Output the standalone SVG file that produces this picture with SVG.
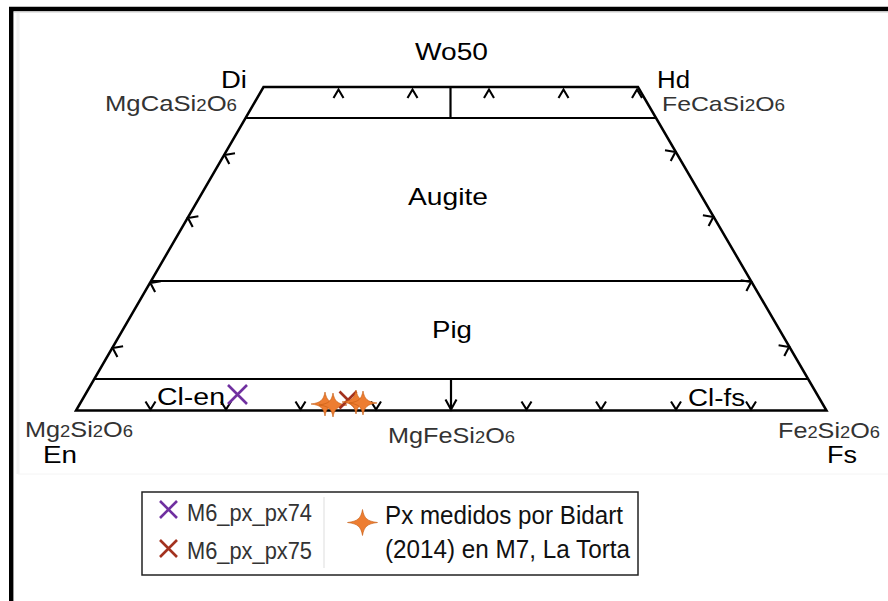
<svg xmlns="http://www.w3.org/2000/svg" width="888" height="601" viewBox="0 0 888 601">
<style>
.ln{stroke:#000;stroke-width:2.5;fill:none;stroke-linecap:square}
.in{stroke:#000;stroke-width:2.2;fill:none}
.tk{stroke:#000;stroke-width:2.1;fill:none;stroke-linejoin:miter}
.lab{font-family:"Liberation Sans",Arial,sans-serif;fill:#000}
.frm{font-family:"Liberation Sans",Arial,sans-serif;fill:#333;font-size:22px}
.sub{font-size:16px}
.leg{font-family:"Liberation Sans",Arial,sans-serif;fill:#333;font-size:23px}
.leg2{font-family:"Liberation Sans",Arial,sans-serif;fill:#111;font-size:25.5px}
.star{fill:#ED7D31;stroke:#C55A11;stroke-width:0.6}
.xp{stroke:#7030A0;stroke-width:2.6;fill:none}
.xr{stroke:#A3321F;stroke-width:2.6;fill:none}
</style>
<defs>
<path id="st" d="M-14,0 C-4.2,-1.3 -1.6,-3.8 0,-12 C1.6,-3.8 4.2,-1.3 14,0 C4.2,1.3 1.6,3.8 0,12 C-1.6,3.8 -4.2,1.3 -14,0Z"/>
<path id="stL" d="M-15,0 C-4.5,-1.4 -1.7,-4 0,-13 C1.7,-4 4.5,-1.4 15,0 C4.5,1.4 1.7,4 0,13 C-1.7,4 -4.5,1.4 -15,0Z"/>
</defs>
<rect x="0" y="0" width="888" height="601" fill="#fff"/>
<g id="frame">
<line x1="9" y1="9" x2="888" y2="9" stroke="#000" stroke-width="4.4"/>
<line x1="11.2" y1="7" x2="11.2" y2="601" stroke="#000" stroke-width="4.4"/>
<line x1="14" y1="12" x2="888" y2="12" stroke="#ccc" stroke-width="1"/>
<line x1="18" y1="13" x2="18" y2="474" stroke="#f2f2f2" stroke-width="3"/>
<line x1="18" y1="474" x2="888" y2="474" stroke="#f4f4f4" stroke-width="1"/>
</g>
<g id="connectors">
<polygon class="ln" points="263.5,87 638,87 826.5,410.5 76,410.5"/>
<line class="in" x1="245.5" y1="118" x2="656" y2="118"/>
<line class="in" x1="151.1" y1="281" x2="751" y2="281"/>
<line class="in" x1="94.3" y1="379" x2="808.1" y2="379"/>
<line class="in" x1="450.5" y1="87" x2="450.5" y2="118"/>
<line class="in" x1="451" y1="379" x2="451" y2="409"/>
<polyline class="tk" points="445.5,399.5 451,409.5 456.5,399.5"/>
<g id="ticks-top">
<polyline class="tk" points="333.5,98 338.5,89.5 343.5,98"/>
<polyline class="tk" points="407.5,98 412.5,89.5 417.5,98"/>
<polyline class="tk" points="484,98 489,89.5 494,98"/>
<polyline class="tk" points="558.5,98 563.5,89.5 568.5,98"/>
<polyline class="tk" points="632,98 637,89.5 642,98"/>
</g>
<g id="ticks-bottom">
<polyline class="tk" points="145.5,401.5 150.5,409.5 155.5,401.5"/>
<polyline class="tk" points="221,401.5 226,409.5 231,401.5"/>
<polyline class="tk" points="295.5,401.5 300.5,409.5 305.5,401.5"/>
<polyline class="tk" points="371,401.5 376,409.5 381,401.5"/>
<polyline class="tk" points="521.5,401.5 526.5,409.5 531.5,401.5"/>
<polyline class="tk" points="596,401.5 601,409.5 606,401.5"/>
<polyline class="tk" points="671,401.5 676,409.5 681,401.5"/>
<polyline class="tk" points="746,401.5 751,409.5 756,401.5"/>
</g>
<g id="ticks-left">
<polyline class="tk" points="235,153.3 224.6,155 229.3,164"/>
<polyline class="tk" points="198.4,216.3 188,218 192.7,227"/>
<polyline class="tk" points="160.8,281.3 150.4,283 155.1,292"/>
<polyline class="tk" points="123.1,346.3 112.7,348 117.4,357"/>
</g>
<g id="ticks-right">
<polyline class="tk" points="665,150.3 675.4,152 670.7,161"/>
<polyline class="tk" points="702.9,215.3 713.3,217 708.6,226"/>
<polyline class="tk" points="740.7,280.3 751.1,282 746.4,291"/>
<polyline class="tk" points="778.6,345.3 789,347 784.3,356"/>
</g>
</g>
<g id="labels">
<text class="lab" x="415" y="60" font-size="23.5" textLength="73" lengthAdjust="spacingAndGlyphs">Wo50</text>
<text class="lab" x="221" y="88" font-size="23" textLength="26" lengthAdjust="spacingAndGlyphs">Di</text>
<text class="lab" x="657" y="88" font-size="23" textLength="33" lengthAdjust="spacingAndGlyphs">Hd</text>
<text class="lab" x="408" y="205" font-size="24.5" textLength="80" lengthAdjust="spacingAndGlyphs">Augite</text>
<text class="lab" x="432" y="338" font-size="24.5" textLength="40" lengthAdjust="spacingAndGlyphs">Pig</text>
<text class="lab" x="157" y="405" font-size="23.5" textLength="68" lengthAdjust="spacingAndGlyphs">Cl-en</text>
<text class="lab" x="688" y="406" font-size="23.5" textLength="57" lengthAdjust="spacingAndGlyphs">Cl-fs</text>
<text class="lab" x="43" y="463" font-size="23.5" textLength="34" lengthAdjust="spacingAndGlyphs">En</text>
<text class="lab" x="827" y="463" font-size="23.5" textLength="30" lengthAdjust="spacingAndGlyphs">Fs</text>
<text class="frm" x="105" y="111" font-size="21" textLength="132" lengthAdjust="spacingAndGlyphs">MgCaSi<tspan class="sub">2</tspan>O<tspan class="sub">6</tspan></text>
<text class="frm" x="662" y="111" style="font-size:21px" textLength="123" lengthAdjust="spacingAndGlyphs">FeCaSi<tspan class="sub">2</tspan>O<tspan class="sub">6</tspan></text>
<text class="frm" x="25" y="437" textLength="108" lengthAdjust="spacingAndGlyphs">Mg<tspan class="sub">2</tspan>Si<tspan class="sub">2</tspan>O<tspan class="sub">6</tspan></text>
<text class="frm" x="388" y="443" textLength="127" lengthAdjust="spacingAndGlyphs">MgFeSi<tspan class="sub">2</tspan>O<tspan class="sub">6</tspan></text>
<text class="frm" x="778" y="438" textLength="102" lengthAdjust="spacingAndGlyphs">Fe<tspan class="sub">2</tspan>Si<tspan class="sub">2</tspan>O<tspan class="sub">6</tspan></text>
</g>
<g id="data">
<g id="px74"><path class="xp" d="M228,385 L247,404 M247,385 L228,404"/></g>
<g id="bidart">
<use href="#st" class="star" x="325" y="404"/>
<use href="#st" class="star" x="333" y="405"/>
</g>
<g id="px75"><path class="xr" d="M339.5,391.5 L356.5,408.5 M356.5,391.5 L339.5,408.5"/></g>
<g id="bidart2">
<use href="#st" class="star" x="356" y="402"/>
<use href="#st" class="star" x="363" y="403"/>
</g>
</g>
<g id="legend">
<rect x="142" y="492" width="496" height="83" fill="#fff" stroke="#222" stroke-width="1.5"/>
<line x1="324" y1="497" x2="324" y2="568" stroke="#ddd" stroke-width="1"/>
<g id="leg-px74"><path class="xp" d="M160,501 L177,518 M177,501 L160,518"/>
<text class="leg" x="187" y="521" textLength="125" lengthAdjust="spacingAndGlyphs">M6_px_px74</text></g>
<g id="leg-px75"><path class="xr" d="M160,540 L177,557 M177,540 L160,557"/>
<text class="leg" x="187" y="559" textLength="125" lengthAdjust="spacingAndGlyphs">M6_px_px75</text></g>
<g id="leg-bidart"><use href="#stL" class="star" x="362.5" y="522.5"/>
<text class="leg2" x="385" y="524" textLength="238" lengthAdjust="spacingAndGlyphs">Px medidos por Bidart</text>
<text class="leg2" x="385" y="558" textLength="245" lengthAdjust="spacingAndGlyphs">(2014) en M7, La Torta</text></g>
</g>
</svg>
